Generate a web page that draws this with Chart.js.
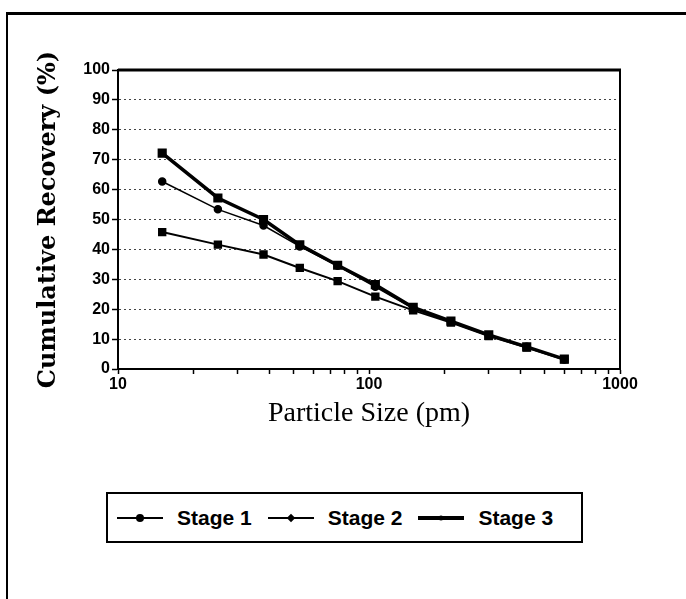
<!DOCTYPE html>
<html>
<head>
<meta charset="utf-8">
<script src="https://cdn.jsdelivr.net/npm/chart.js@4.4.1/dist/chart.umd.min.js"></script>
<style>
  body { margin: 0; background: #fff; }
  #marco { position: absolute; left: 6px; top: 12px; width: 700px; height: 600px; border-top: 3px solid #000; border-left: 2px solid #000; }
  #contenedor { position: absolute; left: 0; top: 0; width: 686px; height: 431px; }
  #leyenda { position: absolute; left: 106px; top: 492px; width: 473px; height: 47px; border: 2px solid #000;
    display: flex; align-items: center; font: bold 21px "Liberation Sans", Arial, sans-serif; color: #000; }
  .item { display: flex; align-items: center; margin-left: 9px; margin-right: 7px; }
  .icono { position: relative; width: 46px; background: #000; margin-right: 14px; }
  .punto { position: absolute; left: 50%; top: 50%; background: #000; transform: translate(-50%, -50%); }
</style>
</head>
<body>
<div id="marco"></div>
<div id="contenedor"><canvas id="grafica"></canvas></div>
<div id="leyenda"></div>
<script>
// Datos
const tamanos = [15, 25, 38, 53, 75, 106, 150, 212, 300, 425, 600];
const etapa1 = [45.8, 41.6, 38.3, 33.8, 29.4, 24.2, 19.6, 15.5, 11.0, 7.2, 3.2];
const etapa2 = [62.7, 53.4, 48.0, 41.0, 34.5, 27.5, 20.2, 15.8, 11.3, 7.4, 3.2];
const etapa3 = [72.2, 57.2, 50.0, 41.5, 34.7, 28.2, 20.6, 16.0, 11.4, 7.4, 3.3];
const nombres = ['Stage 1', 'Stage 2', 'Stage 3'];
const etiquetasX = [10, 100, 1000];

// marcas menores del eje log
const marcasX = [];
for (let d = 10; d < 1000; d *= 10) {
  for (let k = 1; k < 10; k++) marcasX.push(d * k);
}
marcasX.push(1000);

const puntos = (serie) => tamanos.map((t, i) => ({ x: t, y: serie[i] }));

// borde superior y derecho del area
const marcoPlot = {
  id: 'marcoPlot',
  beforeDatasetsDraw(chart) {
    const { ctx, chartArea: a } = chart;
    ctx.save();
    ctx.strokeStyle = '#000';
    ctx.lineWidth = 3;
    ctx.beginPath(); ctx.moveTo(a.left, a.top); ctx.lineTo(a.right + 1, a.top); ctx.stroke();
    ctx.lineWidth = 2;
    ctx.beginPath(); ctx.moveTo(a.right, a.top); ctx.lineTo(a.right, a.bottom); ctx.stroke();
    ctx.restore();
  }
};

const fuenteTicks = { family: '"Liberation Sans", Arial, sans-serif', size: 16, weight: 'bold' };

const chart = new Chart(document.getElementById('grafica'), {
  type: 'line',
  data: {
    datasets: [
      { label: nombres[0], data: puntos(etapa1), borderColor: '#000', backgroundColor: '#000', borderWidth: 2,
        pointStyle: 'rect', pointRadius: 4.5, iconoLinea: 2, iconoPunto: 8, iconoForma: 'circle' },
      { label: nombres[1], data: puntos(etapa2), borderColor: '#000', backgroundColor: '#000', borderWidth: 1.5,
        pointStyle: 'circle', pointRadius: 3.5, iconoLinea: 2, iconoPunto: 6, iconoForma: 'rombo' },
      { label: nombres[2], data: puntos(etapa3), borderColor: '#000', backgroundColor: '#000', borderWidth: 3.5,
        pointStyle: 'rect', pointRadius: 4, iconoLinea: 4, iconoPunto: 5, iconoForma: 'circle' }
    ]
  },
  options: {
    animation: false,
    responsive: true,
    maintainAspectRatio: false,
    layout: { padding: { left: 30, top: 70, right: 66, bottom: 0 } },
    plugins: { legend: { display: false }, tooltip: { enabled: false } },
    elements: { line: { tension: 0 } },
    scales: {
      x: {
        type: 'logarithmic',
        min: 10, max: 1000,
        afterBuildTicks: (s) => { s.ticks = marcasX.map(v => ({ value: v })); },
        afterFit: (s) => { s.height = 62; },
        grid: { drawOnChartArea: false, drawTicks: true, tickLength: 5, tickWidth: 1.5, tickColor: '#000' },
        border: { color: '#000', width: 2 },
        ticks: {
          autoSkip: false, maxRotation: 0, padding: 1, color: '#000', font: fuenteTicks,
          callback: (v) => etiquetasX.includes(v) ? String(v) : ''
        },
        title: {
          display: true, text: 'Particle Size (pm)', color: '#000',
          font: { family: '"Liberation Serif", "Times New Roman", serif', size: 28 },
          padding: { top: 0, bottom: 1 }
        }
      },
      y: {
        min: 0, max: 100,
        afterFit: (s) => { s.width = 88; },
        grid: {
          color: (c) => (c.tick && (c.tick.value === 0 || c.tick.value === 100)) ? 'transparent' : '#444',
          lineWidth: 1, tickLength: 6, tickWidth: 1.5, tickColor: '#000'
        },
        border: { color: '#000', width: 2, dash: [2, 3] },
        ticks: { stepSize: 10, padding: 2, color: '#000', font: fuenteTicks },
        title: {
          display: true, text: 'Cumulative Recovery (%)', color: '#000',
          font: { family: '"DejaVu Serif", serif', size: 24, weight: 'bold' },
          padding: { top: 4, bottom: 0 }
        }
      }
    }
  },
  plugins: [marcoPlot]
});

// Leyenda en HTML a partir de los datasets
const leyenda = document.getElementById('leyenda');
chart.data.datasets.forEach(ds => {
  const item = document.createElement('div');
  item.className = 'item';
  const icono = document.createElement('span');
  icono.className = 'icono';
  icono.style.height = ds.iconoLinea + 'px';
  const punto = document.createElement('span');
  punto.className = 'punto';
  punto.style.width = punto.style.height = ds.iconoPunto + 'px';
  if (ds.iconoForma === 'circle') punto.style.borderRadius = '50%';
  if (ds.iconoForma === 'rombo') punto.style.transform = 'translate(-50%, -50%) rotate(45deg)';
  icono.appendChild(punto);
  const texto = document.createElement('span');
  texto.textContent = ds.label;
  item.appendChild(icono);
  item.appendChild(texto);
  leyenda.appendChild(item);
});
</script>
</body>
</html>
